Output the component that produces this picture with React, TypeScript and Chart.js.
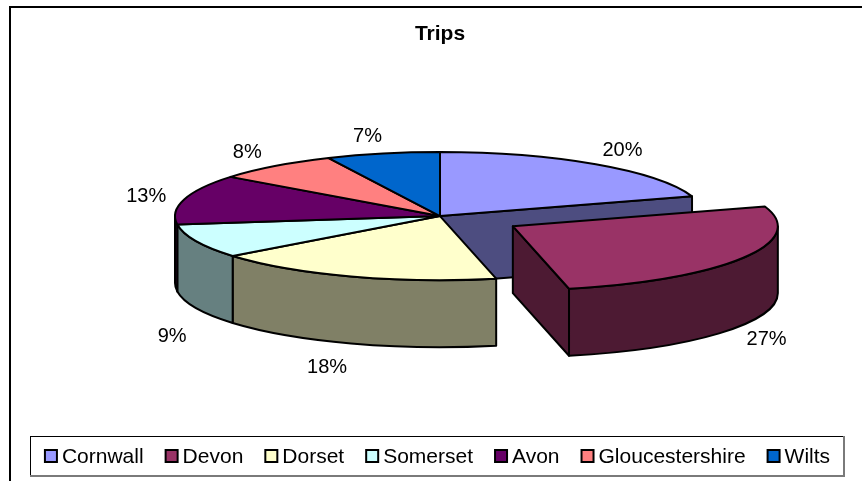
import React, { useEffect, useRef } from "react";
import { Chart, PieController, ArcElement, Title } from "chart.js";

Chart.register(PieController, ArcElement, Title);

const categories = ["Cornwall", "Devon", "Dorset", "Somerset", "Avon", "Gloucestershire", "Wilts"];
const trips = [20.0, 26.6, 17.7, 8.6, 12.6, 7.6, 6.9];
const topColors = ["#9999FF", "#993366", "#FFFFCC", "#CCFFFF", "#660066", "#FF8080", "#0066CC"];
const sideColors = ["#4D4D80", "#4D1A33", "#808066", "#668080", "#330033", "#804040", "#003366"];
const explodeOffsets = [0, 84, 0, 0, 0, 0, 0];

const FONT = "'Liberation Sans', Arial, Helvetica, sans-serif";
const RX = 265;
const RY = 64;
const DEPTH = 67;

type Slice = { i: number; cx: number; cy: number; s: number; e: number; mid: number; off: number };

const pie3d = {
  id: "pie3d",
  beforeDatasetsDraw(chart: any) {
    const ctx: CanvasRenderingContext2D = chart.ctx;
    const meta = chart.getDatasetMeta(0);
    const arcs = meta.data;
    const n = arcs.length;
    const values: number[] = chart.data.datasets[0].data;
    const total = values.reduce((a, b) => a + b, 0);
    const info: Slice[] = arcs.map((arc: any, i: number) => {
      const p = arc.getProps(["x", "y", "startAngle", "endAngle"], true);
      const off = arc.options.offset || 0;
      const mid = (p.startAngle + p.endAngle) / 2;
      return {
        i,
        cx: p.x + off * Math.cos(mid),
        cy: p.y + off * (RY / RX) * Math.sin(mid),
        s: p.startAngle,
        e: p.endAngle,
        mid,
        off,
      };
    });

    const pt = (o: Slice, a: number, z: number): [number, number] => [
      o.cx + RX * Math.cos(a),
      o.cy + RY * Math.sin(a) + z * DEPTH,
    ];

    ctx.save();
    ctx.lineWidth = 2;
    ctx.lineJoin = "round";
    ctx.strokeStyle = "#000";

    const paint = (fill: string) => {
      ctx.fillStyle = fill;
      ctx.fill();
      ctx.stroke();
    };

    const drawRadial = (o: Slice, a: number) => {
      const [x1, y1] = pt(o, a, 0);
      const [x2, y2] = pt(o, a, 1);
      ctx.beginPath();
      ctx.moveTo(o.cx, o.cy);
      ctx.lineTo(x1, y1);
      ctx.lineTo(x2, y2);
      ctx.lineTo(o.cx, o.cy + DEPTH);
      ctx.closePath();
      paint(sideColors[o.i]);
    };

    const drawWall = (o: Slice) => {
      const a1 = Math.max(o.s, 0);
      const a2 = Math.min(o.e, Math.PI);
      if (a2 <= a1) return;
      ctx.beginPath();
      ctx.ellipse(o.cx, o.cy, RX, RY, 0, a1, a2);
      ctx.ellipse(o.cx, o.cy + DEPTH, RX, RY, 0, a2, a1, true);
      ctx.closePath();
      paint(sideColors[o.i]);
    };

    const drawTop = (o: Slice) => {
      ctx.beginPath();
      ctx.moveTo(o.cx, o.cy);
      ctx.ellipse(o.cx, o.cy, RX, RY, 0, o.s, o.e);
      ctx.closePath();
      paint(topColors[o.i]);
    };

    const groups = [info.filter((o) => !o.off), info.filter((o) => o.off)];
    for (const g of groups) {
      for (const o of g) {
        const prevOff = info[(o.i - 1 + n) % n].off;
        const nextOff = info[(o.i + 1) % n].off;
        if ((o.off || prevOff) && Math.cos(o.s) < 0) drawRadial(o, o.s);
        if ((o.off || nextOff) && Math.cos(o.e) > 0) drawRadial(o, o.e);
      }
      for (const o of g) drawWall(o);
      for (const o of g) drawTop(o);
    }

    // percentage labels
    ctx.fillStyle = "#000";
    ctx.font = `20px ${FONT}`;
    ctx.textAlign = "center";
    ctx.textBaseline = "middle";
    for (const o of info) {
      const a = o.mid;
      const front = Math.sin(a) > 0;
      const sgn = Math.cos(a) >= 0 ? 1 : -1;
      let lx: number, ly: number;
      if (front) {
        const [ax, ay] = pt(o, a, 1);
        lx = ax + sgn * 24;
        ly = ay + 21 - 8 * Math.cos(a);
      } else {
        const [ax, ay] = pt(o, a, 0);
        lx = ax + Math.cos(a) * 30 + sgn * 9;
        ly = ay + Math.sin(a) * 20 + 2;
      }
      const pct = Math.round((values[o.i] / total) * 100) + "%";
      ctx.fillText(pct, lx, ly);
    }
    ctx.restore();
    return false;
  },
  afterDraw(chart: any) {
    const ctx: CanvasRenderingContext2D = chart.ctx;
    ctx.save();
    // outer chart frame (top and left edges visible)
    ctx.fillStyle = "#000";
    ctx.fillRect(9, 6, 853, 2);
    ctx.fillRect(9, 6, 2, 475);

    // legend
    const labels: string[] = chart.data.labels;
    ctx.font = `21px ${FONT}`;
    const box = 14;
    const textGap = 18;
    const itemGap = 21;
    const widths = labels.map((l) => ctx.measureText(l).width);
    const totalW = widths.reduce((s, w) => s + textGap + w, 0) + itemGap * (labels.length - 1);
    const frameL = 30, frameR = 844, frameT = 436, frameB = 476;
    ctx.fillStyle = "#000";
    ctx.fillRect(frameL, frameT, frameR - frameL, 1);
    ctx.fillRect(frameL, frameT, 1, frameB - frameT);
    ctx.fillStyle = "#7a7a7a";
    ctx.fillRect(frameL, frameB - 1, frameR - frameL + 1, 2);
    ctx.fillRect(frameR - 1, frameT, 2, frameB - frameT + 1);

    let x = (frameL + frameR) / 2 - totalW / 2;
    const cyL = 457;
    ctx.textAlign = "left";
    ctx.textBaseline = "middle";
    labels.forEach((l, i) => {
      ctx.fillStyle = "#000";
      ctx.fillRect(x, cyL - box / 2 - 1, box, box);
      ctx.fillStyle = topColors[i];
      ctx.fillRect(x + 2, cyL - box / 2 + 1, box - 4, box - 4);
      ctx.fillStyle = "#000";
      ctx.fillText(l, x + textGap, cyL);
      x += textGap + widths[i] + itemGap;
    });
    ctx.restore();
  },
};

export default function App() {
  const ref = useRef<HTMLCanvasElement>(null);
  useEffect(() => {
    const chart = new Chart(ref.current as HTMLCanvasElement, {
      type: "pie",
      data: {
        labels: categories,
        datasets: [
          {
            data: trips,
            backgroundColor: topColors,
            borderColor: "#000",
            borderWidth: 2,
            offset: explodeOffsets,
          } as any,
        ],
      },
      options: {
        responsive: false,
        animation: false,
        events: [],
        layout: { padding: { left: 18, right: 0, top: 0, bottom: 106 } },
        plugins: {
          legend: { display: false },
          tooltip: { enabled: false },
          title: {
            display: true,
            text: "Trips",
            color: "#000",
            font: { family: FONT, size: 21, weight: "bold" },
            padding: { top: 22, bottom: 10 },
          },
        },
      } as any,
      plugins: [pie3d as any],
    });
    return () => chart.destroy();
  }, []);
  return (
    <div style={{ position: "absolute", left: 0, top: 0, width: 862, height: 481, background: "#fff" }}>
      <canvas ref={ref} width={862} height={481} style={{ display: "block", width: 862, height: 481 }} />
    </div>
  );
}
